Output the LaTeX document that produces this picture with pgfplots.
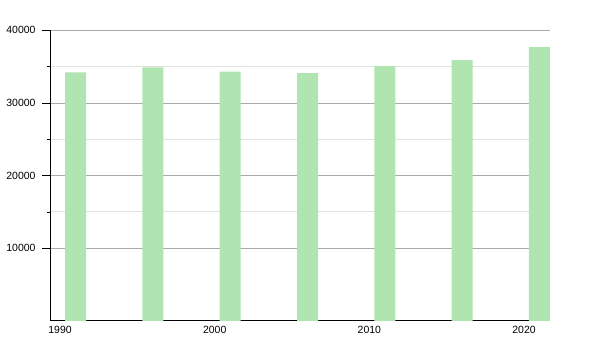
\documentclass[border=0pt]{standalone}
\usepackage{pgfplots}
\pgfplotsset{compat=1.18}
\usepackage{fontspec}
\setmainfont{Liberation Sans}
\definecolor{barg}{RGB}{176,228,176}
\definecolor{majg}{RGB}{170,170,170}
\definecolor{ming}{RGB}{225,225,225}
\begin{document}
\begin{tikzpicture}
\begin{axis}[
  scale only axis,
  width=500bp, height=290.5bp,
  at={(0,0)}, anchor=south west,
  xmin=1989.35, xmax=2021.68,
  ymin=0, ymax=40000,
  axis x line*=bottom, axis y line*=left,
  axis line style={black, line width=0.8pt, -},
  xtick={1990,2000,2010,2020},
  ytick={10000,20000,30000,40000},
  minor y tick num=1,
  ymajorgrids, yminorgrids,
  major grid style={majg, line width=0.8pt},
  minor grid style={ming, line width=0.8pt},
  tick style={black, line width=0.6pt},
  tick align=outside,
  major tick length=8bp, minor tick length=3bp,
  x tick style={draw=none},
  tick label style={font=\fontsize{10.5}{12}\selectfont},
  yticklabel style={xshift=-3bp},
  xticklabel style={yshift=6bp},
  /pgf/number format/assume math mode=true,
  /pgf/number format/1000 sep={},
  scaled y ticks=false,
  ybar, bar width=21bp, bar shift=0pt,
  clip=false,
]
\addplot[fill=barg, draw=none] coordinates {
  (1991,34200) (1996,34900) (2001,34300) (2006,34100) (2011,35100) (2016,35900) (2021,37700)
};
\end{axis}
\useasboundingbox (-50bp,-29.2bp) rectangle (550bp,320.8bp);
\end{tikzpicture}
\end{document}
